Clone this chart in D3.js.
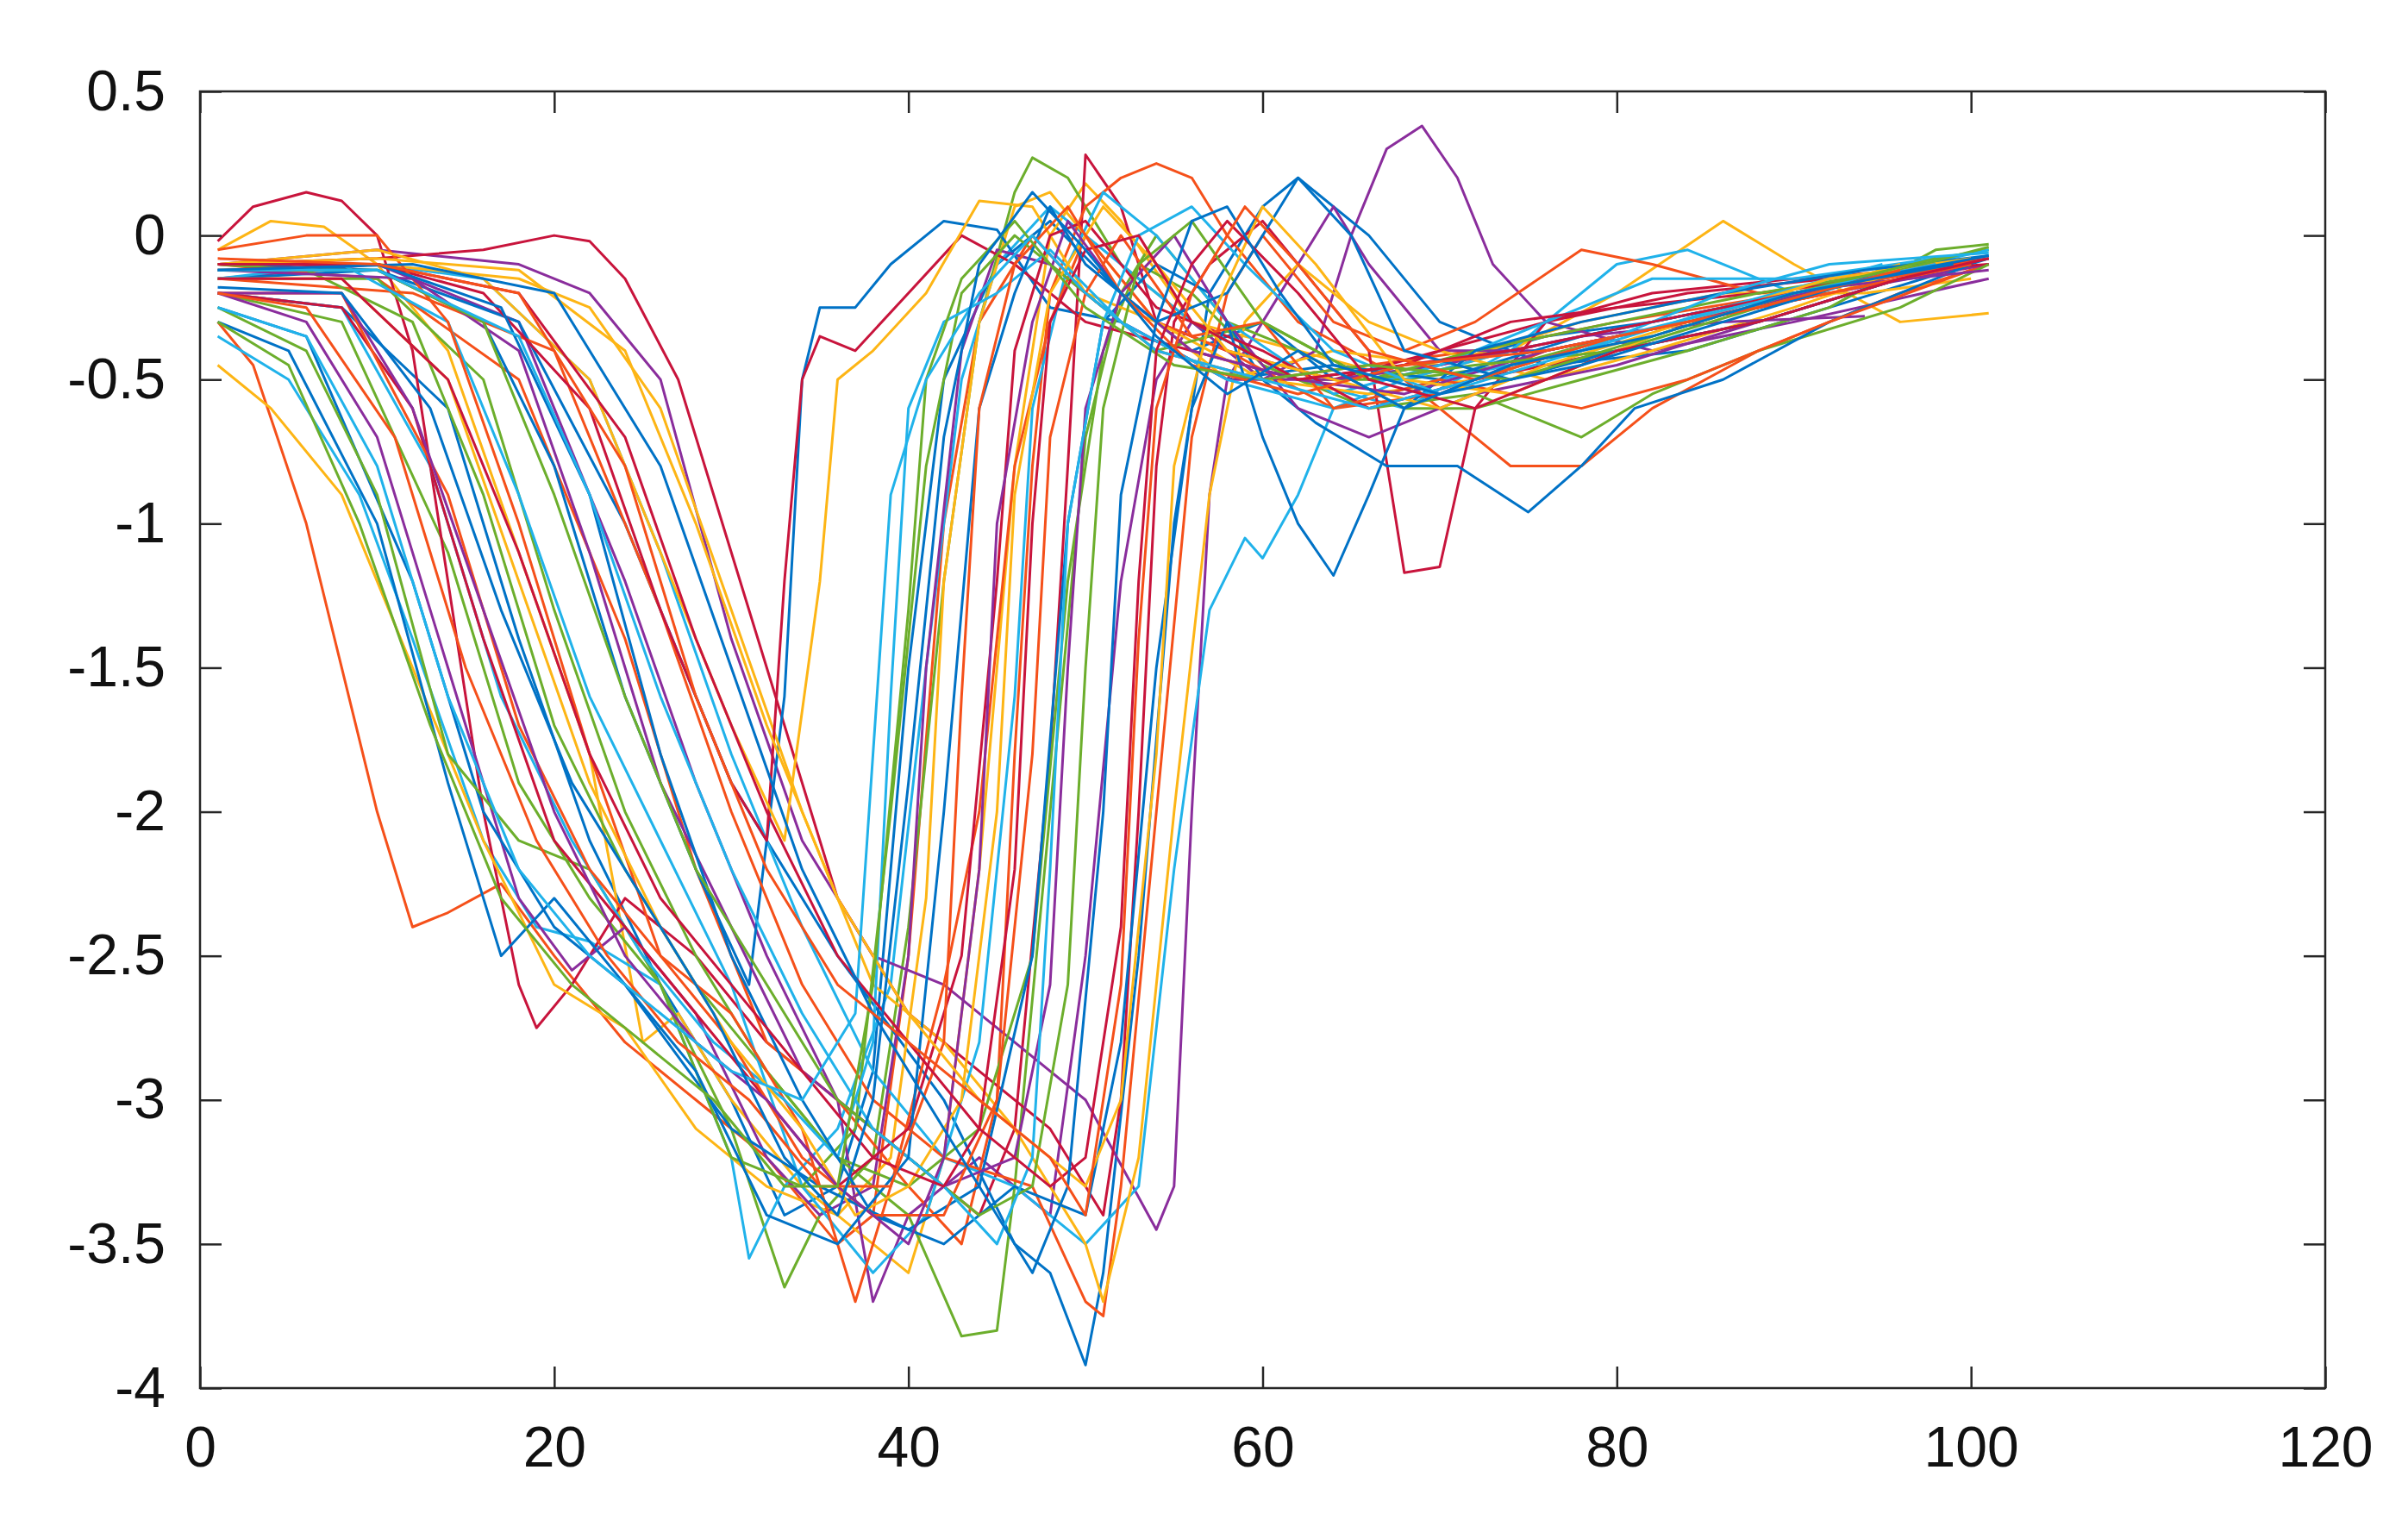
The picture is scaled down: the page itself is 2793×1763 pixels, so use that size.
<!DOCTYPE html>
<html><head><meta charset="utf-8">
<script src="https://cdn.jsdelivr.net/npm/d3@7"></script>
<style>body{margin:0;background:#fff}</style></head>
<body><svg id="c" width="2793" height="1763"></svg>
<script>
const xTicks=[0,20,40,60,80,100,120];
const yTicks=[0.5,0,-0.5,-1,-1.5,-2,-2.5,-3,-3.5,-4];
const yTickLabels=["0.5","0","-0.5","-1","-1.5","-2","-2.5","-3","-3.5","-4"];

const blueSeries=[
[[1,-0.2],[8,-0.25],[14,-0.6],[18,-1.4],[22,-2.1],[26,-2.6],[30,-3.0],[33,-3.4],[36,-3.3],[38,-2.9],[40,-1.5],[42,-0.5],[45,-0.1],[48,0.05],[52,-0.2],[56,-0.4],[60,-0.3],[64,-0.5],[70,-0.45],[76,-0.35],[82,-0.3],[90,-0.2],[100,-0.08]],
[[1,-0.1],[10,-0.12],[18,-0.3],[24,-1.0],[30,-1.9],[36,-2.5],[42,-3.0],[46,-3.5],[48,-3.6],[50,-3.92],[51,-3.6],[53,-2.5],[55,-1.0],[57,-0.2],[60,0.1],[62,0.2],[66,0],[70,-0.3],[76,-0.45],[84,-0.4],[92,-0.25],[101,-0.08]],
[[1,-0.15],[10,-0.12],[16,-0.3],[20,-0.8],[24,-1.6],[28,-2.2],[31,-2.6],[33,-1.6],[34,-0.5],[35,-0.25],[37,-0.25],[39,-0.1],[42,0.05],[45,0.02],[48,-0.25],[52,-0.3],[58,-0.5],[64,-0.45],[70,-0.5],[78,-0.35],[86,-0.25],[95,-0.15]],
[[1,-0.25],[6,-0.35],[12,-1.2],[16,-2.0],[20,-2.4],[24,-2.6],[30,-3.1],[35,-3.3],[40,-3.45],[44,-3.3],[47,-2.5],[49,-1.0],[51,-0.3],[54,-0.1],[57,-0.2],[60,-0.5],[63,-0.65],[67,-0.8],[71,-0.8],[75,-0.96],[78,-0.8],[81,-0.6],[86,-0.5],[92,-0.3],[100,-0.1]],
[[1,-0.1],[10,-0.1],[17,-0.25],[22,-0.9],[26,-1.8],[30,-2.5],[34,-3.0],[38,-3.4],[42,-3.5],[46,-3.3],[50,-3.4],[52,-2.8],[54,-1.5],[56,-0.6],[58,-0.3],[60,-0.7],[62,-1.0],[64,-1.18],[66,-0.9],[68,-0.6],[72,-0.4],[78,-0.3],[86,-0.2],[94,-0.12],[101,-0.07]],
[[1,-0.3],[5,-0.4],[10,-1.0],[14,-1.9],[17,-2.5],[20,-2.3],[24,-2.6],[28,-2.9],[32,-3.4],[36,-3.5],[40,-3.2],[42,-2.0],[44,-0.6],[46,-0.2],[48,0.1],[50,-0.1],[54,-0.3],[58,-0.2],[62,0.2],[65,0],[68,-0.4],[74,-0.5],[80,-0.4],[88,-0.3],[96,-0.15]],
[[1,-0.12],[12,-0.1],[20,-0.2],[26,-0.8],[30,-1.5],[34,-2.2],[38,-2.7],[42,-3.1],[45,-3.4],[47,-3.6],[49,-3.3],[51,-2.0],[52,-0.9],[54,-0.3],[56,0.05],[58,0.1],[61,-0.2],[64,-0.45],[70,-0.55],[78,-0.45],[86,-0.3],[94,-0.15],[101,-0.07]],
[[1,-0.18],[8,-0.2],[13,-0.6],[17,-1.3],[21,-1.9],[25,-2.3],[29,-2.7],[33,-3.2],[36,-3.4],[38,-3.0],[40,-1.9],[42,-0.7],[44,-0.1],[47,0.15],[50,-0.05],[54,-0.35],[58,-0.55],[62,-0.4],[68,-0.6],[74,-0.45],[82,-0.35],[90,-0.2],[99,-0.1]]
];
const orangeSeries=[
[[1,-0.3],[3,-0.45],[6,-1.0],[8,-1.5],[10,-2.0],[12,-2.4],[14,-2.35],[17,-2.25],[20,-2.5],[24,-2.8],[28,-3.0],[32,-3.2],[36,-3.5],[38,-3.4],[40,-2.5],[42,-1.0],[44,-0.3],[47,0],[50,-0.2],[54,-0.4],[60,-0.5],[66,-0.45],[72,-0.4],[80,-0.3],[90,-0.2],[100,-0.1]],
[[1,-0.1],[10,-0.15],[18,-0.5],[24,-1.4],[28,-2.2],[32,-2.8],[36,-3.0],[40,-3.3],[43,-3.5],[45,-3.0],[46,-1.8],[47,-0.8],[48,-0.2],[50,0.1],[52,0.2],[54,0.25],[56,0.2],[58,0],[62,-0.3],[68,-0.5],[74,-0.8],[78,-0.8],[82,-0.6],[88,-0.4],[96,-0.2],[101,-0.1]],
[[1,-0.15],[12,-0.2],[20,-0.4],[26,-1.3],[30,-2.0],[34,-2.6],[38,-3.0],[42,-3.2],[47,-3.3],[50,-3.7],[51,-3.75],[52,-3.3],[54,-2.0],[56,-0.7],[58,-0.2],[60,0],[64,-0.3],[68,-0.4],[72,-0.3],[78,-0.05],[82,-0.1],[88,-0.2],[95,-0.15],[101,-0.08]],
[[1,-0.05],[6,0],[10,0],[14,-0.3],[18,-1.0],[22,-1.8],[26,-2.5],[30,-2.7],[34,-3.1],[37,-3.7],[39,-3.3],[42,-2.6],[44,-2.0],[46,-0.8],[48,-0.3],[50,0],[54,-0.3],[58,-0.4],[64,-0.6],[70,-0.55],[76,-0.4],[84,-0.3],[92,-0.2],[100,-0.1]],
[[1,-0.2],[8,-0.2],[14,-0.9],[18,-1.7],[22,-2.2],[26,-2.5],[30,-2.8],[34,-3.2],[38,-3.4],[42,-3.4],[45,-3.0],[47,-1.8],[48,-0.7],[50,-0.2],[52,0],[56,-0.35],[60,-0.3],[64,-0.6],[70,-0.5],[78,-0.6],[84,-0.5],[92,-0.3],[100,-0.12]],
[[1,-0.2],[6,-0.25],[11,-0.7],[15,-1.5],[19,-2.1],[23,-2.5],[27,-2.8],[31,-3.0],[35,-3.3],[39,-3.3],[42,-2.8],[43,-1.6],[44,-0.6],[46,-0.1],[49,0.1],[52,-0.2],[56,-0.45],[62,-0.55],[68,-0.45],[76,-0.4],[84,-0.3],[92,-0.2],[100,-0.1]],
[[1,-0.08],[10,-0.1],[18,-0.2],[24,-0.8],[28,-1.6],[32,-2.2],[36,-2.6],[40,-2.8],[44,-3.0],[48,-3.2],[50,-3.4],[52,-2.6],[53,-1.4],[54,-0.6],[56,-0.2],[59,0.1],[62,-0.1],[66,-0.4],[72,-0.5],[80,-0.35],[88,-0.25],[96,-0.12]]
];
const yellowSeries=[
[[1,-0.05],[4,0.05],[7,0.03],[10,-0.1],[14,-0.4],[18,-1.1],[22,-1.8],[25,-2.8],[27,-2.7],[30,-3.0],[34,-3.3],[38,-3.5],[40,-3.6],[42,-3.2],[44,-2.2],[46,-0.8],[48,0],[50,0.18],[52,0.05],[56,-0.3],[62,-0.4],[68,-0.5],[74,-0.4],[80,-0.2],[86,0.05],[90,-0.1],[96,-0.3],[101,-0.27]],
[[1,-0.45],[4,-0.6],[8,-0.9],[12,-1.5],[16,-2.1],[20,-2.6],[24,-2.75],[28,-3.1],[32,-3.3],[36,-3.4],[39,-3.2],[41,-2.3],[42,-1.2],[44,-0.3],[46,0.1],[48,0.15],[50,0],[54,-0.3],[58,-0.5],[64,-0.4],[70,-0.45],[78,-0.3],[86,-0.2],[94,-0.2],[100,-0.15]],
[[1,-0.1],[10,-0.1],[18,-0.15],[22,-0.25],[26,-0.6],[30,-1.3],[34,-2.0],[38,-2.6],[42,-2.8],[46,-3.1],[50,-3.5],[51,-3.7],[53,-3.2],[55,-2.0],[57,-0.9],[59,-0.3],[62,-0.1],[66,-0.3],[70,-0.4],[76,-0.5],[82,-0.4],[90,-0.25],[97,-0.1]],
[[1,-0.1],[10,-0.05],[16,-0.15],[22,-0.5],[26,-1.1],[30,-1.7],[33,-2.1],[35,-1.2],[36,-0.5],[38,-0.4],[41,-0.2],[44,0.12],[47,0.1],[50,-0.2],[54,-0.3],[60,-0.5],[66,-0.55],[72,-0.5],[80,-0.35],[88,-0.25],[96,-0.1]],
[[1,-0.15],[8,-0.15],[14,-0.5],[18,-1.2],[22,-1.9],[26,-2.4],[30,-2.8],[34,-3.1],[37,-3.4],[40,-3.3],[43,-3.0],[45,-2.0],[46,-0.9],[48,-0.2],[51,0.1],[54,-0.1],[58,-0.4],[64,-0.5],[70,-0.6],[76,-0.45],[84,-0.3],[92,-0.15],[100,-0.08]],
[[1,-0.1],[10,-0.08],[18,-0.12],[24,-0.4],[28,-1.0],[32,-1.7],[36,-2.3],[40,-2.7],[44,-3.0],[48,-3.2],[50,-3.3],[52,-3.0],[54,-1.8],[55,-0.8],[57,-0.3],[60,0.1],[63,-0.1],[68,-0.5],[74,-0.55],[82,-0.35],[90,-0.2],[98,-0.1]]
];
const purpleSeries=[
[[1,-0.15],[10,-0.1],[18,-0.3],[24,-1.2],[28,-1.9],[32,-2.5],[36,-3.0],[38,-3.7],[40,-3.4],[44,-3.2],[48,-3.4],[50,-2.5],[52,-1.2],[54,-0.5],[56,-0.3],[60,-0.5],[63,-0.4],[65,0],[67,0.3],[69,0.38],[71,0.2],[73,-0.1],[76,-0.3],[82,-0.4],[90,-0.3],[101,-0.15]],
[[1,-0.1],[10,-0.05],[18,-0.1],[22,-0.2],[26,-0.5],[30,-1.4],[34,-2.1],[38,-2.5],[42,-2.6],[46,-2.8],[50,-3.0],[54,-3.45],[55,-3.3],[56,-2.0],[57,-0.9],[58,-0.5],[60,-0.3],[62,-0.1],[64,0.1],[66,-0.1],[70,-0.4],[76,-0.4],[84,-0.3],[92,-0.2],[101,-0.1]],
[[1,-0.2],[6,-0.3],[10,-0.7],[14,-1.5],[18,-2.3],[21,-2.55],[24,-2.4],[28,-2.7],[32,-3.2],[35,-3.4],[38,-3.3],[40,-2.5],[41,-1.5],[43,-0.4],[45,-0.05],[48,-0.1],[52,-0.3],[58,-0.5],[64,-0.5],[70,-0.45],[78,-0.35],[86,-0.3],[94,-0.28]],
[[1,-0.12],[12,-0.15],[18,-0.4],[22,-1.1],[26,-1.9],[30,-2.4],[34,-2.9],[38,-3.1],[42,-3.3],[46,-3.2],[48,-2.6],[49,-1.5],[50,-0.6],[52,-0.2],[55,0],[58,-0.3],[62,-0.6],[66,-0.7],[72,-0.55],[80,-0.45],[88,-0.3],[96,-0.15]],
[[1,-0.2],[8,-0.2],[12,-0.6],[16,-1.3],[20,-2.0],[24,-2.5],[28,-2.8],[32,-3.0],[36,-3.3],[40,-3.5],[42,-3.2],[44,-2.2],[45,-1.0],[47,-0.3],[49,0.05],[52,-0.2],[56,-0.4],[62,-0.5],[68,-0.55],[76,-0.4],[84,-0.3],[92,-0.18],[101,-0.12]]
];
const greenSeries=[
[[1,-0.2],[8,-0.3],[14,-1.1],[18,-1.9],[22,-2.3],[26,-2.6],[30,-3.1],[33,-3.65],[35,-3.4],[38,-3.2],[40,-2.4],[42,-1.2],[44,-0.3],[46,0.15],[47,0.27],[49,0.2],[52,-0.1],[56,-0.3],[62,-0.5],[68,-0.5],[74,-0.45],[80,-0.35],[88,-0.25],[96,-0.1],[101,-0.05]],
[[1,-0.15],[10,-0.15],[16,-0.5],[20,-1.3],[24,-2.0],[28,-2.5],[32,-2.9],[36,-3.2],[40,-3.4],[43,-3.82],[45,-3.8],[46,-3.3],[48,-2.0],[50,-0.7],[52,-0.2],[54,0],[58,-0.3],[62,-0.4],[68,-0.6],[72,-0.6],[78,-0.5],[84,-0.4],[92,-0.25],[98,-0.05],[101,-0.03]],
[[1,-0.1],[6,-0.12],[12,-0.3],[16,-0.9],[20,-1.7],[24,-2.2],[28,-2.6],[32,-2.9],[36,-3.2],[40,-3.3],[44,-3.1],[47,-2.5],[49,-1.2],[51,-0.4],[53,-0.1],[56,-0.2],[60,-0.45],[66,-0.6],[72,-0.55],[78,-0.7],[82,-0.55],[88,-0.4],[96,-0.25],[101,-0.1]],
[[1,-0.25],[6,-0.4],[10,-0.9],[14,-1.8],[18,-2.1],[22,-2.2],[26,-2.6],[30,-3.2],[34,-3.3],[37,-3.1],[39,-2.0],[41,-0.8],[43,-0.2],[46,0],[50,-0.2],[54,-0.4],[60,-0.3],[66,-0.5],[72,-0.4],[80,-0.3],[88,-0.2],[96,-0.12]],
[[1,-0.12],[10,-0.12],[16,-0.3],[20,-0.9],[24,-1.6],[28,-2.2],[32,-2.6],[36,-3.0],[40,-3.2],[44,-3.4],[47,-3.3],[49,-2.6],[50,-1.5],[51,-0.6],[53,-0.1],[56,0.05],[60,-0.3],[66,-0.5],[72,-0.45],[80,-0.4],[88,-0.25],[96,-0.12],[101,-0.04]],
[[1,-0.3],[5,-0.45],[9,-1.0],[13,-1.7],[17,-2.3],[21,-2.6],[25,-2.8],[29,-3.0],[33,-3.3],[36,-3.3],[38,-2.6],[40,-1.3],[41,-0.5],[43,-0.15],[46,0.05],[50,-0.25],[55,-0.45],[60,-0.5],[66,-0.45],[74,-0.5],[82,-0.35],[90,-0.2],[98,-0.08]]
];
const cyanSeries=[
[[1,-0.35],[5,-0.5],[9,-0.9],[12,-1.4],[16,-2.1],[19,-2.4],[22,-2.45],[26,-2.6],[30,-3.2],[31,-3.55],[33,-3.3],[36,-3.1],[39,-2.6],[41,-1.5],[43,-0.5],[45,-0.1],[48,0.1],[52,-0.1],[56,-0.3],[62,-0.5],[68,-0.6],[74,-0.4],[80,-0.1],[84,-0.05],[90,-0.2],[98,-0.1]],
[[1,-0.1],[10,-0.1],[16,-0.15],[22,-0.5],[26,-1.1],[30,-1.8],[34,-2.4],[38,-2.9],[42,-3.2],[46,-3.3],[50,-3.5],[53,-3.3],[55,-2.2],[57,-1.3],[59,-1.05],[60,-1.12],[62,-0.9],[64,-0.6],[68,-0.5],[74,-0.4],[82,-0.3],[90,-0.2],[101,-0.05]],
[[1,-0.15],[8,-0.1],[14,-0.3],[18,-0.9],[22,-1.6],[26,-2.1],[30,-2.6],[34,-3.3],[38,-3.6],[41,-3.4],[44,-2.8],[46,-1.6],[47,-0.6],[49,-0.1],[51,0.15],[54,0],[58,-0.3],[64,-0.55],[70,-0.45],[76,-0.3],[82,-0.15],[90,-0.15],[98,-0.08]],
[[1,-0.2],[8,-0.25],[13,-0.8],[17,-1.6],[21,-2.1],[25,-2.5],[29,-2.8],[33,-3.0],[36,-3.2],[38,-2.8],[39,-1.6],[40,-0.6],[42,-0.3],[45,-0.2],[48,-0.05],[52,-0.3],[58,-0.5],[64,-0.6],[70,-0.5],[78,-0.4],[86,-0.25],[95,-0.1]],
[[1,-0.12],[10,-0.12],[18,-0.35],[22,-0.9],[26,-1.6],[30,-2.2],[34,-2.7],[38,-3.1],[42,-3.3],[45,-3.5],[47,-3.2],[48,-2.2],[49,-1.0],[51,-0.3],[53,0],[56,0.1],[59,-0.1],[64,-0.4],[70,-0.55],[78,-0.4],[86,-0.2],[92,-0.1],[101,-0.06]],
[[1,-0.25],[6,-0.35],[10,-0.8],[14,-1.6],[18,-2.2],[22,-2.5],[26,-2.7],[30,-2.9],[34,-3.0],[37,-2.7],[38,-1.8],[39,-0.9],[41,-0.5],[44,-0.2],[47,0],[50,-0.2],[54,-0.4],[60,-0.5],[66,-0.6],[72,-0.5],[80,-0.35],[90,-0.2],[98,-0.1]]
];
const redSeries=[
[[1,-0.02],[3,0.1],[6,0.15],[8,0.12],[10,0],[12,-0.4],[14,-1.2],[16,-2.0],[18,-2.6],[19,-2.75],[21,-2.6],[24,-2.3],[28,-2.5],[32,-2.8],[36,-3.0],[40,-3.2],[44,-3.4],[46,-3.1],[48,-1.8],[49,-0.8],[50,0.28],[52,0.1],[54,-0.3],[58,-0.4],[64,-0.5],[70,-0.4],[76,-0.3],[84,-0.2],[92,-0.15],[101,-0.08]],
[[1,-0.1],[10,-0.08],[16,-0.05],[20,0],[22,-0.02],[24,-0.15],[27,-0.5],[30,-1.1],[33,-1.7],[36,-2.3],[40,-2.7],[44,-2.9],[48,-3.1],[51,-3.4],[52,-3.0],[53,-2.0],[54,-0.8],[55,-0.3],[57,-0.1],[60,0.05],[62,-0.1],[66,-0.4],[68,-1.17],[70,-1.15],[72,-0.6],[76,-0.3],[82,-0.2],[90,-0.15],[101,-0.1]],
[[1,-0.12],[10,-0.1],[16,-0.2],[22,-0.6],[26,-1.3],[30,-1.9],[32,-2.1],[33,-1.2],[34,-0.5],[35,-0.35],[37,-0.4],[40,-0.2],[43,0],[46,-0.1],[50,-0.3],[56,-0.4],[62,-0.5],[68,-0.45],[74,-0.3],[80,-0.25],[88,-0.2],[94,-0.15]],
[[1,-0.2],[8,-0.25],[12,-0.6],[16,-1.4],[20,-2.1],[24,-2.4],[28,-2.7],[32,-3.0],[36,-3.3],[40,-3.1],[43,-2.5],[45,-1.2],[46,-0.4],[48,0],[50,0.05],[54,-0.25],[60,-0.4],[66,-0.6],[72,-0.5],[80,-0.4],[88,-0.3],[96,-0.15]],
[[1,-0.15],[8,-0.15],[14,-0.5],[18,-1.1],[22,-1.8],[26,-2.3],[30,-2.6],[34,-2.9],[38,-3.2],[42,-3.3],[44,-3.1],[46,-2.2],[47,-1.0],[48,-0.3],[50,-0.05],[53,0],[56,-0.3],[62,-0.5],[68,-0.45],[74,-0.4],[82,-0.3],[90,-0.2],[98,-0.1]],
[[1,-0.1],[10,-0.1],[18,-0.2],[24,-0.7],[28,-1.4],[32,-2.0],[36,-2.5],[40,-2.8],[44,-3.1],[48,-3.3],[50,-3.2],[52,-2.4],[53,-1.2],[54,-0.4],[56,-0.1],[58,0.05],[62,-0.2],[66,-0.5],[72,-0.6],[80,-0.4],[88,-0.3],[96,-0.15],[101,-0.08]]
];

const groups=[
 {data:blueSeries,color:"#0072C6"},
 {data:orangeSeries,color:"#F5501A"},
 {data:yellowSeries,color:"#FDB515"},
 {data:purpleSeries,color:"#8A2D9C"},
 {data:greenSeries,color:"#6CAE2C"},
 {data:cyanSeries,color:"#20B2EA"},
 {data:redSeries,color:"#C8143C"}
];

const L=232,R=2697,T=106,B=1610;
const x=d3.scaleLinear().domain([0,120]).range([L,R]);
const y=d3.scaleLinear().domain([-4,0.5]).range([B,T]);
const svg=d3.select("#c");
const line=d3.line().x(d=>x(d[0])).y(d=>y(d[1]));

const maxN=d3.max(groups,g=>g.data.length);
for(let i=0;i<maxN;i++){
  groups.forEach(g=>{
    if(g.data[i]) svg.append("path").attr("d",line(g.data[i])).attr("fill","none")
      .attr("stroke",g.color).attr("stroke-width",3).attr("stroke-linejoin","round");
  });
}

svg.append("rect").attr("x",L).attr("y",T).attr("width",R-L).attr("height",B-T)
  .attr("fill","none").attr("stroke","#262626").attr("stroke-width",2.5);

const fs="66px";
const ax=svg.append("g").attr("transform",`translate(0,${B})`).call(d3.axisBottom(x).tickValues(xTicks).tickSize(-25).tickPadding(44));
const ay=svg.append("g").attr("transform",`translate(${L},0)`).call(d3.axisLeft(y).tickValues(yTicks).tickFormat((d,i)=>yTickLabels[i]).tickSize(-25).tickPadding(40));
const ayR=svg.append("g").attr("transform",`translate(${R},0)`).call(d3.axisRight(y).tickValues(yTicks).tickFormat("").tickSize(-25));
const axT=svg.append("g").attr("transform",`translate(0,${T})`).call(d3.axisTop(x).tickValues(xTicks).tickFormat("").tickSize(-25));
[ax,ay,ayR,axT].forEach(g=>{g.select(".domain").remove();
  g.selectAll("line").attr("stroke","#262626").attr("stroke-width",2.5);
  g.selectAll("text").attr("font-family","Liberation Sans, Arial, sans-serif").attr("font-size",fs).attr("fill","#111");});
</script></body></html>
